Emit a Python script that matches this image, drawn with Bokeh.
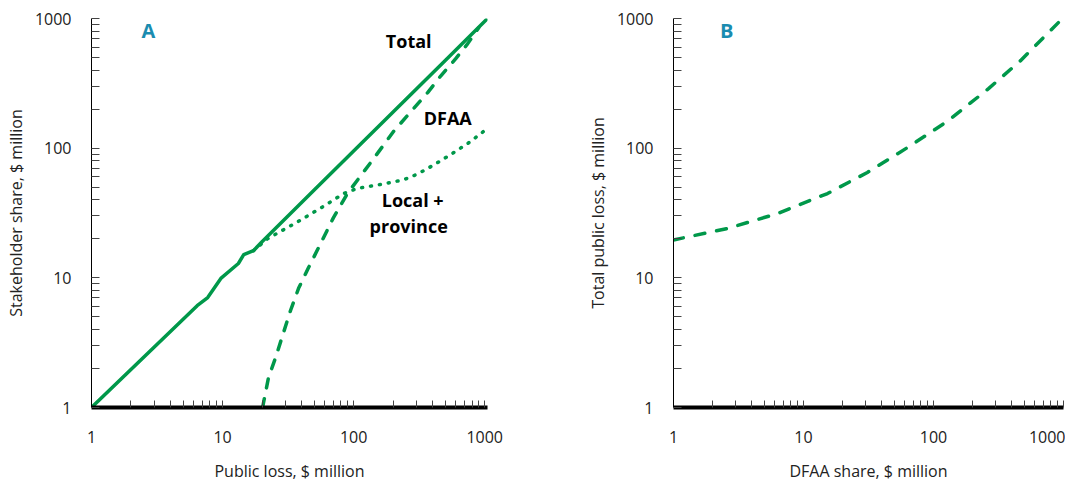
from bokeh.plotting import figure
from bokeh.layouts import row
from bokeh.models import FixedTicker, Range1d, Label
from bokeh.embed import file_html
from bokeh.resources import INLINE

GREEN = "#00984a"
TEAL = "#1a8cb0"
FONT = "Open Sans"
TXT = "#222222"

# ---- tick values / labels ----
tick_values = [1, 10, 100, 1000]
tick_labels = ["1", "10", "100", "1000"]
minor_values = [m * 10 ** e for e in range(0, 4) for m in range(2, 10)]

# ---- Panel A data: stakeholder shares vs public loss ($ million) ----
total_x = [1, 6.4, 7.7, 9.7, 13.2, 14.5, 17.2, 20, 50, 100, 200, 500, 1050]
total_y = [1, 6.1, 7.05, 9.9, 12.9, 15.1, 16.2, 19, 47.5, 95, 190, 475, 1000]

local_x = [17.2, 22, 39, 60, 84, 107, 169, 240, 306, 401, 550, 755, 1050]
local_y = [16.2, 20, 27.7, 36, 44.7, 49, 53, 57, 63, 73.4, 89.3, 110, 142]

dfaa_x = [20.2, 22.4, 25.4, 28.7, 33, 38, 45.3, 56, 70, 90, 142, 202, 272, 367, 461, 601, 742, 900]
dfaa_y = [1, 1.7, 2.43, 3.59, 5.6, 8.3, 12, 18.4, 29, 45, 83, 135, 190, 268, 360, 490, 640, 850]

# ---- Panel B data: total public loss vs DFAA share ($ million) ----
b_x = [1, 2.6, 6.3, 15.3, 31, 63, 130, 265, 467, 982]
b_y = [19.6, 24, 31.3, 44.7, 65, 101, 163, 288, 473, 1000]


def make_fig(width, border_left, border_right, x_end, xlabel, ylabel):
    p = figure(width=width, height=486, x_axis_type="log", y_axis_type="log",
               x_range=Range1d(1, x_end), y_range=Range1d(1, 1000),
               output_backend="svg", toolbar_location=None,
               min_border_left=border_left, min_border_right=border_right,
               min_border_top=18, min_border_bottom=79)
    p.outline_line_color = None
    p.grid.visible = False
    p.background_fill_color = "white"
    for ax in (p.xaxis[0], p.yaxis[0]):
        ax.ticker = FixedTicker(ticks=tick_values, minor_ticks=minor_values)
        ax.major_label_overrides = dict(zip(tick_values, tick_labels))
        ax.major_label_text_font = FONT
        ax.major_label_text_font_size = "16px"
        ax.major_label_text_color = TXT
        ax.axis_label_text_font = FONT
        ax.axis_label_text_font_size = "16px"
        ax.axis_label_text_font_style = "normal"
        ax.axis_label_text_color = TXT
        ax.major_tick_out = 0
        ax.minor_tick_out = 0
        ax.major_tick_line_color = "#444444"
        ax.minor_tick_line_color = "#444444"
        ax.axis_line_color = "black"
    xa = p.xaxis[0]
    xa.axis_label = xlabel
    xa.axis_line_width = 4
    xa.major_tick_in = 7
    xa.minor_tick_in = 7
    xa.major_label_standoff = 23
    xa.axis_label_standoff = 14
    ya = p.yaxis[0]
    ya.axis_label = ylabel
    ya.axis_line_width = 1
    ya.major_tick_in = 8
    ya.minor_tick_in = 8
    ya.major_label_standoff = 20
    ya.axis_label_standoff = 5
    return p


def add_label(p, x, y, text, color="black", size="18px"):
    p.add_layout(Label(x=x, y=y, text=text, text_font=FONT, text_font_size=size,
                       text_font_style="bold", text_color=color,
                       text_align="center", text_baseline="middle"))


pa = make_fig(540, 91, 53, 1050, "Public loss, $ million", "Stakeholder share, $ million")
pa.line(total_x, total_y, line_color=GREEN, line_width=3.5, line_join="round")
pa.line(local_x, local_y, line_color=GREEN, line_width=3.5, line_dash="1 8", line_cap="round")
pa.line(dfaa_x, dfaa_y, line_color=GREEN, line_width=3.5, line_dash="9 11", line_cap="round")

add_label(pa, 2.72, 807, "A", TEAL, "20px")
add_label(pa, 263, 676, "Total")
add_label(pa, 522, 172, "DFAA")
add_label(pa, 282, 39.5, "Local +")
add_label(pa, 263, 24.9, "province")

pb = make_fig(525, 133, 2, 1000, "DFAA share, $ million", "Total public loss, $ million")
pb.line(b_x, b_y, line_color=GREEN, line_width=3.5, line_dash="10 12", line_cap="round")
add_label(pb, 2.57, 807, "B", TEAL, "20px")

layout = row(pa, pb)
open("out.html", "w").write(file_html(layout, INLINE))
